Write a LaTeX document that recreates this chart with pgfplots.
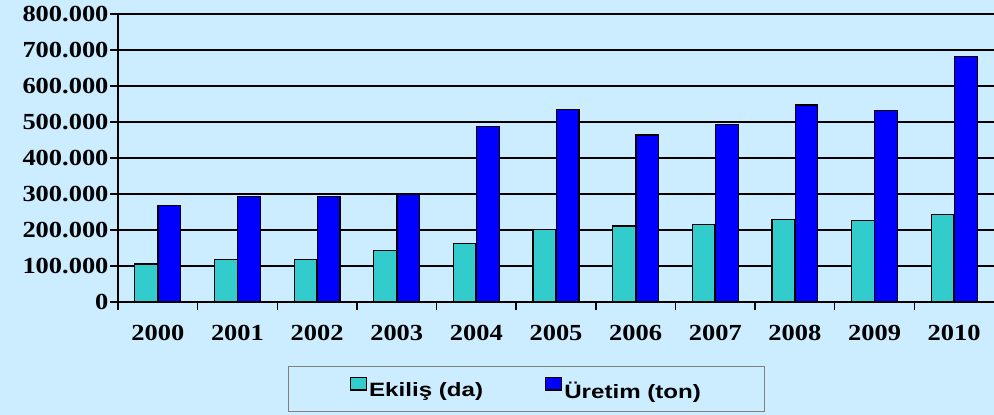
\documentclass[border=0pt]{standalone}
\usepackage{pgfplots}
\pgfplotsset{compat=1.18}
\usepackage{graphicx}
\usepackage{fontspec}
\setmainfont{Liberation Serif}
\newfontfamily\tickfont{Liberation Serif}
\newfontfamily\legfont{Liberation Sans}[FakeStretch=1.25]
\newcommand\sx[1]{{\tickfont\bfseries\fontsize{23}{23}\selectfont\scalebox{1.15}[1]{#1}}}
\definecolor{bg}{RGB}{204,236,255}
\definecolor{tealc}{RGB}{51,204,204}
\definecolor{bluec}{RGB}{0,0,255}
\definecolor{legframe}{RGB}{128,128,128}
\begin{document}
\begin{tikzpicture}
\useasboundingbox (0,0) rectangle (994pt,415pt);
\fill[bg] (0,0) rectangle (994pt,415pt);
\begin{axis}[
  at={(118pt,113pt)}, anchor=south west,
  scale only axis, width=876pt, height=288pt,
  xmin=-0.5, xmax=10.5, ymin=0, ymax=800000,
  axis x line=bottom, axis y line=left,
  axis line style={-, line width=2.2pt, black},
  scaled y ticks=false,
  ytick={0,100000,200000,300000,400000,500000,600000,700000,800000},
  yticklabels={\sx{0},\sx{100.000},\sx{200.000},\sx{300.000},\sx{400.000},\sx{500.000},\sx{600.000},\sx{700.000},\sx{800.000}},
  ymajorgrids, grid style={black, line width=2.2pt},
  xtick={-0.5,0.5,...,9.5},
  xticklabels={\sx{2000},\sx{2001},\sx{2002},\sx{2003},\sx{2004},\sx{2005},\sx{2006},\sx{2007},\sx{2008},\sx{2009},\sx{2010}},
  xticklabel style={xshift=39.82pt, yshift=-12pt},
  yticklabel style={xshift=2pt},
  tick align=outside, major tick length=8pt,
  ytick style={line width=2.2pt, black},
  xtick style={line width=1.5pt, black},
  legend style={at={(0.4663,-0.303)}, anchor=center, draw=legframe, line width=1pt,
    fill=bg, legend columns=2, font=\legfont\bfseries\fontsize{19.3}{19.3}\selectfont,
    inner xsep=61pt, inner ysep=10pt,
    /tikz/every even column/.append style={column sep=60pt}},
]
\addplot[ybar, bar width=0.285, bar shift=-0.146, fill=tealc, draw=black, line width=1.2pt,
  legend image code/.code={\draw[fill=tealc, draw=black, line width=1.2pt] (0pt,0.5pt) rectangle (16pt,13pt);}]
  coordinates {(0,105600) (1,117000) (2,118500) (3,142600) (4,163000) (5,202000) (6,211000) (7,215000) (8,230000) (9,226000) (10,244000)};
\addlegendentry{Ekiliş (da)}
\addplot[ybar, bar width=0.285, bar shift=0.146, fill=bluec, draw=black, line width=1.2pt,
  legend image code/.code={\draw[fill=bluec, draw=black, line width=1.2pt] (0pt,0.5pt) rectangle (16pt,13pt);}]
  coordinates {(0,269000) (1,294000) (2,294000) (3,300000) (4,487000) (5,535000) (6,464000) (7,492000) (8,547000) (9,531000) (10,681000)};
\addlegendentry{Üretim (ton)}
\end{axis}
\end{tikzpicture}
\end{document}
